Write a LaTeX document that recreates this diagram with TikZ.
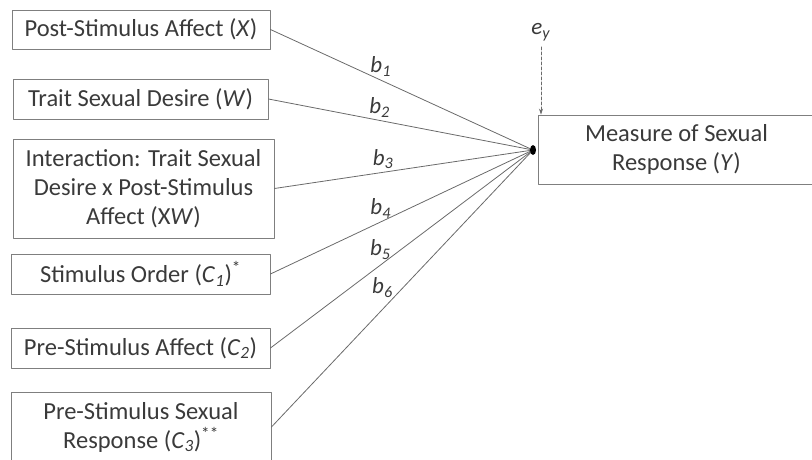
\documentclass[tikz,border=0pt]{standalone}
\usepackage{fontspec}
\setmainfont{Carlito}
\usepackage{tikz}
\usetikzlibrary{arrows.meta}
\definecolor{boxgray}{HTML}{7F7F7F}
\definecolor{linegray}{HTML}{6A6A6A}
\definecolor{textgray}{HTML}{3A3A3A}
\newcommand{\sub}[1]{\textsubscript{\textit{#1}}}

\begin{document}
\begin{tikzpicture}[x=1pt,y=-1pt,line cap=round,line join=round,
    varbox/.style={draw=boxgray,line width=0.9pt,text=textgray,align=center,inner sep=0pt,
      font=\fontsize{24.5}{29}\selectfont},
    path/.style={draw=linegray,line width=0.8pt},
    blab/.style={text=textgray,inner sep=1pt,font=\fontsize{23}{26}\selectfont}]
      \useasboundingbox (0,0) rectangle (812,460);
      \node[varbox,minimum width=258,minimum height=39] (x) at (141,29.5) {Post-Stimulus Affect (\textit{X})};
      \node[varbox,minimum width=255,minimum height=40] (w) at (140.5,99) {Trait Sexual Desire (\textit{W})};
      \node[varbox,minimum width=261,minimum height=99] (xw) at (143.5,188.5) {Interaction: Trait Sexual\\Desire x Post-Stimulus\\Affect (X\textit{W})};
      \node[varbox,minimum width=259,minimum height=40] (c1) at (140.5,274) {Stimulus Order (\textit{C}\sub{1})\textsuperscript{*}};
      \node[varbox,minimum width=259,minimum height=40] (c2) at (140.5,348) {Pre-Stimulus Affect (\textit{C}\sub{2})};
      \node[varbox,minimum width=260,minimum height=70] (c3) at (141,427) {Pre-Stimulus Sexual\\Response (\textit{C}\sub{3})\textsuperscript{**}};
      \node[varbox,minimum width=277,minimum height=69] (y) at (676.5,149.5) {Measure of Sexual\\Response (\textit{Y})};
      \node[blab] (ey) at (541,32) {\textit{e}\sub{y}};
      \coordinate (dot) at (533,150);
      \foreach \src/\n/\p/\dx in {x/1/0.42/0,w/2/0.42/0,xw/3/0.42/0,c1/4/0.42/0,c2/5/0.43/-3,c3/6/0.455/-8}
      \draw[path] (\src.east) -- node[blab,pos=\p,above,xshift=\dx,yshift=2] (b\n) {\textit{b}\sub{\n}} (dot);
      \fill[black] (dot) ellipse (3 and 5);
      \draw[path,densely dashed,shorten <=5pt,-{Stealth[length=6pt,width=4pt]}] (ey.south) -- (y.north -| ey.south);
    \end{tikzpicture}
\end{document}
